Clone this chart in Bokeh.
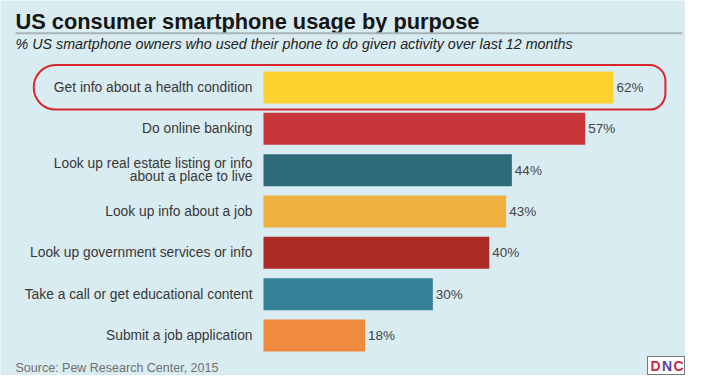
from bokeh.plotting import figure
from bokeh.models import ColumnDataSource, Range1d, Label, BoxAnnotation
from bokeh.core.properties import value
from bokeh.embed import file_html
from bokeh.resources import INLINE

# ---- data ----
categories = [
    "Get info about a health condition",
    "Do online banking",
    "Look up real estate listing or info\nabout a place to live",
    "Look up info about a job",
    "Look up government services or info",
    "Take a call or get educational content",
    "Submit a job application",
]
values = [62, 57, 44, 43, 40, 30, 18]
bar_colors = ["#fcd22e", "#c8363a", "#2e6b78", "#f0b040", "#ad2b27", "#357f99", "#ef8a3f"]
title_text = "US consumer smartphone usage by purpose"
subtitle_text = "% US smartphone owners who used their phone to do given activity over last 12 months"
source_text = "Source: Pew Research Center, 2015"
highlight_index = 0

n = len(categories)
ypos = [n - 1 - i for i in range(n)]
labels = [f"{v}%" for v in values]

src = ColumnDataSource(dict(y=ypos, v=values, c=bar_colors, cat=categories,
                            lab=labels, zero=[0] * n))

FONT_NAME = "Liberation Sans"
FONT = value(FONT_NAME)
BG = "#d9ecf2"
W, H = 685, 375

p = figure(width=W, height=H, output_backend="svg", toolbar_location=None,
           x_range=Range1d(-46.59, 74.76), y_range=Range1d(-0.968, 8.105),
           x_axis_type=None, y_axis_type=None,
           min_border=0, min_border_left=0, min_border_right=0,
           min_border_top=0, min_border_bottom=0)
p.background_fill_color = BG
p.border_fill_color = BG
p.outline_line_color = None
p.grid.visible = False

p.hbar(y="y", left=0, right="v", height=0.775, color="c", line_color=None, source=src)

p.text(x="zero", y="y", text="cat", source=src, x_offset=-11,
       text_align="right", text_baseline="middle", text_font=FONT,
       text_font_size="13.8px", text_color="#383838", text_line_height=0.9)

p.text(x="v", y="y", text="lab", source=src, x_offset=3,
       text_align="left", text_baseline="middle", text_font=FONT,
       text_font_size="13.5px", text_color="#444444")

# highlight outline around first bar
hy = ypos[highlight_index]
p.add_layout(BoxAnnotation(left=-40.7, right=71.2, bottom=hy - 0.535, top=hy + 0.545,
                           fill_color=None, fill_alpha=0, line_color="#d9262c",
                           line_alpha=1, line_width=2,
                           border_radius=(22, 16, 16, 22)))

# title, rule, subtitle, source
p.add_layout(Label(x=15, y=H - 20.7, x_units="screen", y_units="screen", text=title_text,
                   text_font=FONT_NAME, text_font_size="21.8px", text_font_style="bold",
                   text_color="#151515", text_baseline="middle"))
p.add_layout(BoxAnnotation(left=15, right=682, bottom=H - 33.7, top=H - 31.7,
                           left_units="screen", right_units="screen",
                           bottom_units="screen", top_units="screen",
                           fill_color="#a9b4b8", fill_alpha=1, line_color=None))
p.add_layout(Label(x=15, y=H - 43.5, x_units="screen", y_units="screen", text=subtitle_text,
                   text_font=FONT_NAME, text_font_size="14.3px", text_font_style="italic",
                   text_color="#222222", text_baseline="middle"))
p.add_layout(Label(x=15, y=8, x_units="screen", y_units="screen", text=source_text,
                   text_font=FONT_NAME, text_font_size="12.5px",
                   text_color="#707070", text_baseline="middle"))

# small logo
p.add_layout(BoxAnnotation(left=647, right=684, bottom=1, top=19,
                           left_units="screen", right_units="screen",
                           bottom_units="screen", top_units="screen",
                           fill_color="#ffffff", fill_alpha=1, line_color="#777777",
                           line_alpha=1, line_width=1))
for i, (ch, col) in enumerate(zip("DNC", ["#d0283c", "#5a3fa0", "#d0283c"])):
    p.add_layout(Label(x=650 + i * 11.5, y=10, x_units="screen", y_units="screen", text=ch,
                       text_font=FONT_NAME, text_font_size="14px", text_font_style="bold",
                       text_color=col, text_baseline="middle"))

open("out.html", "w").write(file_html(p, INLINE))
